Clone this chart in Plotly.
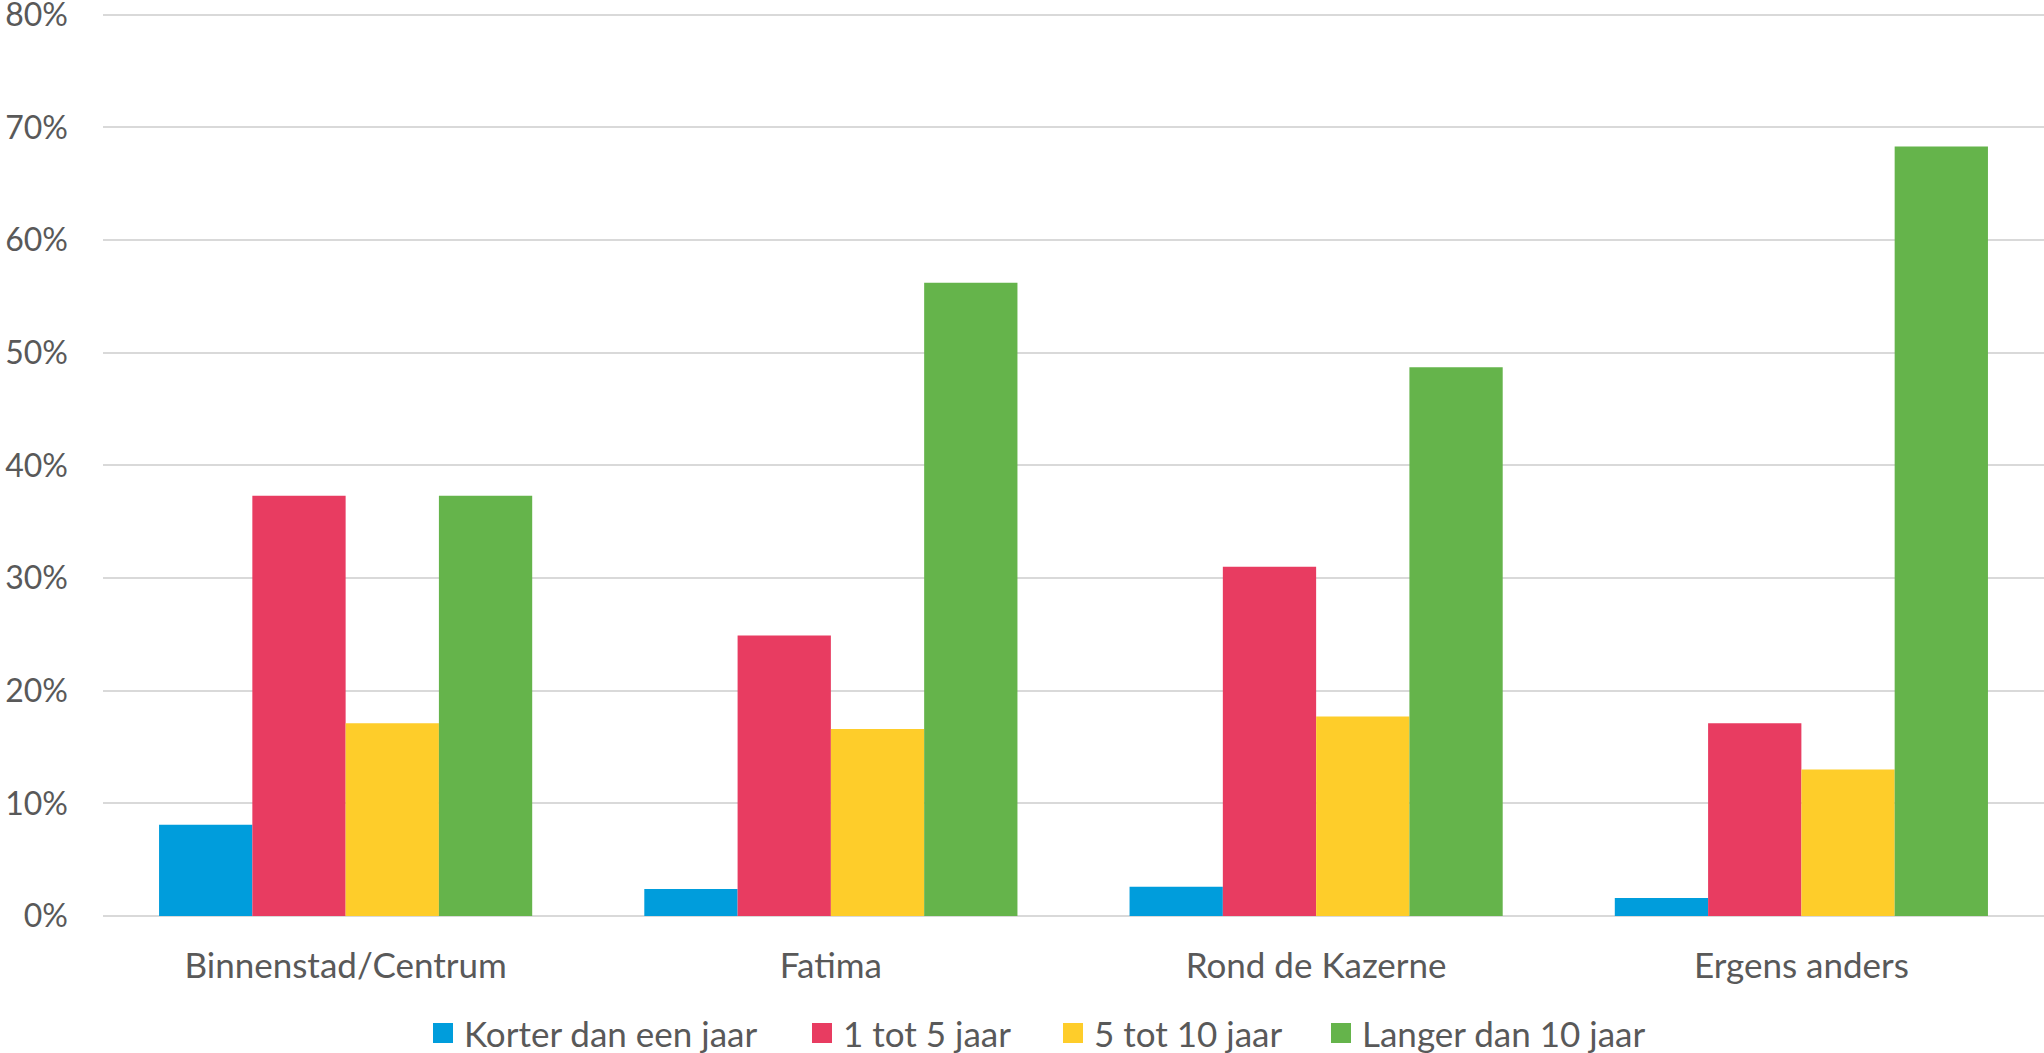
import plotly.graph_objects as go

# Woonduur per wijk (aandeel respondenten)
wijken = ["Binnenstad/Centrum", "Fatima", "Rond de Kazerne", "Ergens anders"]
korter_dan_een_jaar = [0.081, 0.024, 0.026, 0.016]
een_tot_vijf_jaar = [0.373, 0.249, 0.310, 0.171]
vijf_tot_tien_jaar = [0.171, 0.166, 0.177, 0.130]
langer_dan_tien_jaar = [0.373, 0.562, 0.487, 0.683]

series = [
    ("Korter dan een jaar", korter_dan_een_jaar, "#009DDC"),
    ("1 tot 5 jaar", een_tot_vijf_jaar, "#E83C61"),
    ("5 tot 10 jaar", vijf_tot_tien_jaar, "#FECD2A"),
    ("Langer dan 10 jaar", langer_dan_tien_jaar, "#65B44B"),
]

font_color = "#595959"
font_family = "Lato, 'Open Sans', sans-serif"

W, H = 2044, 1053
ML, MR, MT, MB = 103, 0, 9, 137
plot_w = W - ML - MR
plot_h = H - MT - MB

# legend laid out by hand (pixel x of each swatch), spaced like the original
legend_x = [433, 812, 1063, 1331]
legend_y = 1033
swatch = 20


def px_x(px):
    return (px - ML) / plot_w


def px_y(py):
    return (H - MB - py) / plot_h


fig = go.Figure()
for (name, values, color), lx in zip(series, legend_x):
    fig.add_trace(go.Bar(
        x=wijken, y=values, name=name, showlegend=False,
        marker=dict(color=color, line=dict(width=0)),
    ))
    fig.add_shape(
        type="rect", xref="paper", yref="paper",
        x0=px_x(lx), x1=px_x(lx + swatch),
        y0=px_y(legend_y + swatch / 2), y1=px_y(legend_y - swatch / 2),
        fillcolor=color, line=dict(width=0),
    )
    fig.add_annotation(
        text=name, xref="paper", yref="paper",
        x=px_x(lx + swatch + 9), y=px_y(legend_y),
        xanchor="left", yanchor="middle", showarrow=False,
        font=dict(size=35, color=font_color),
    )

fig.update_layout(
    width=W, height=H,
    margin=dict(l=ML, r=MR, t=MT, b=MB, autoexpand=False),
    barmode="group", bargap=0.231, bargroupgap=0,
    plot_bgcolor="white", paper_bgcolor="white",
    font=dict(family=font_family, size=35, color=font_color),
    showlegend=False,
)
fig.update_yaxes(
    range=[0, 0.805], tickvals=[0, 0.1, 0.2, 0.3, 0.4, 0.5, 0.6, 0.7, 0.8],
    tickformat=".0%", ticklabeloverflow="allow",
    showgrid=True, gridcolor="#D9D9D9", gridwidth=2,
    zeroline=True, zerolinecolor="#D9D9D9", zerolinewidth=2,
    showline=False, ticks="", ticklabelstandoff=34, automargin=False,
    tickfont=dict(size=32),
)
fig.update_xaxes(
    showgrid=False, showline=False, ticks="", ticklabelstandoff=26,
    automargin=False,
)

# drop the default page margin so the chart sits at the window's corner
fig.write_html(
    "out.html",
    config={"displayModeBar": False},
    post_script="document.body.style.margin = '0';",
)
